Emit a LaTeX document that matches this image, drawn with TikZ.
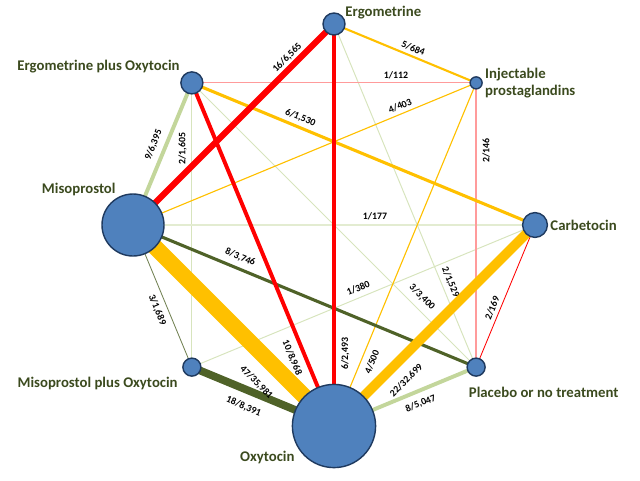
\documentclass[tikz,border=0pt]{standalone}
\usepackage{fontspec}
\setmainfont{Carlito}
\usepackage{xcolor}
\usepackage{tikz}
\usetikzlibrary{positioning,calc,backgrounds}

\definecolor{nodeblue}{HTML}{4F81BD}
\definecolor{nodeline}{HTML}{1F3A5F}
\definecolor{txtgreen}{HTML}{3B4A1E}
\definecolor{amber}{HTML}{FFC000}
\definecolor{darkolive}{HTML}{4F6228}
\definecolor{sage}{HTML}{C3D69B}
\definecolor{paleleaf}{HTML}{D7E4BD}
\definecolor{salmon}{HTML}{FF9B9B}

\begin{document}
\begin{tikzpicture}[
		trt/.style={draw=nodeline, line width=1pt, circle, fill=nodeblue, inner sep=0pt, minimum size=#1},
		tag/.style={font=\fontsize{10.5}{12.5}\selectfont\bfseries, text=txtgreen, inner sep=0pt},
		elab/.style={font=\fontsize{7}{8}\selectfont\bfseries, text=black, inner sep=1pt, sloped}]
		\useasboundingbox (-8.35,-6.375) rectangle (7.65,5.625);

		% treatments on the octagon
		\node[trt=0.55cm] (Erg) at (0,5.025) {};
		\node[trt=0.3cm] (Inj) at (3.553,3.553) {};
		\node[trt=0.62cm] (Carb) at (5.025,0) {};
		\node[trt=0.45cm] (Plac) at (3.553,-3.553) {};
		\node[trt=2.08cm] (Oxy) at (0,-5.025) {};
		\node[trt=0.45cm] (MisoOxy) at (-3.553,-3.553) {};
		\node[trt=1.55cm] (Miso) at (-5.025,0) {};
		\node[trt=0.55cm] (ErgOxy) at (-3.553,3.553) {};

		\node[tag, anchor=west] (ErgT) at ($(Erg)+(0.28,0.28)$) {Ergometrine};
		\node[tag, anchor=east] (ErgOxyT) at ($(ErgOxy)+(-0.3,0.4)$) {Ergometrine plus Oxytocin};
		\node[tag, anchor=west, align=left] (InjT) at ($(Inj)+(0.22,0)$) {Injectable\\prostaglandins};
		\node[tag, anchor=west] (CarbT) at ($(Carb)+(0.38,0)$) {Carbetocin};
		\node[tag] (PlacT) at ($(Plac)+(1.69,-0.62)$) {Placebo or no treatment};
		\node[tag, anchor=east] (OxyT) at ($(Oxy)+(-0.98,-0.78)$) {Oxytocin};
		\node[tag, anchor=east] (MisoOxyT) at ($(MisoOxy)+(-0.35,-0.4)$) {Misoprostol plus Oxytocin};
		\node[tag, anchor=east] (MisoT) at ($(Miso)+(-0.43,0.88)$) {Misoprostol};

		\begin{scope}[on background layer]
			% faint links
			\draw[paleleaf, line width=0.7pt] (MisoOxy.center) -- (ErgOxy.center) node[elab, pos=.768, above=2.3pt] {2/1,605};
			\draw[paleleaf, line width=0.7pt] (ErgOxy.center) -- (Plac.center) node[elab, pos=.782, above=3.7pt] {3/3,400};
			\draw[paleleaf, line width=0.7pt] (Erg.center) -- (Plac.center) node[elab, pos=.762, above=2pt] {2/1,529};
			\draw[paleleaf, line width=0.7pt] (MisoOxy.center) -- (Carb.center) node[elab, pos=.495, above=2.6pt] {1/380};
			\draw[paleleaf!70, line width=1pt] (Miso.center) -- (Carb.center) node[elab, pos=.602, above=2.3pt] {1/177};
			% pink and thin red
			\draw[salmon, line width=0.8pt] (ErgOxy.center) -- (Inj.center) node[elab, pos=.718, above=1.6pt] {1/112};
			\draw[salmon, line width=1pt] (Plac.center) -- (Inj.center) node[elab, pos=.761, below=3pt] {2/146};
			\draw[red, line width=0.6pt] (Plac.center) -- (Carb.center) node[elab, pos=.394, above=1.6pt] {2/169};
			% orange
			\draw[amber, line width=0.8pt] (Miso.center) -- (Inj.center) node[elab, pos=.787, above=1.6pt] {4/403};
			\draw[amber, line width=0.8pt] (Oxy.center) -- (Inj.center) node[elab, pos=.198, below=3.5pt] {4/500};
			\draw[amber, line width=1.5pt] (Erg.center) -- (Inj.center) node[elab, pos=.536, above=1.3pt] {5/684};
			\draw[amber, line width=2.2pt] (ErgOxy.center) -- (Carb.center) node[elab, pos=.306, above=1.5pt] {6/1,530};
			% greens
			\draw[darkolive!80, line width=0.6pt] (Miso.center) -- (MisoOxy.center) node[elab, pos=.57, below=3pt] {3/1,689};
			\draw[sage, line width=2.8pt] (Miso.center) -- (ErgOxy.center) node[elab, pos=.532, above=3pt] {9/6,395};
			\draw[sage, line width=2.8pt] (Oxy.center) -- (Plac.center) node[elab, pos=.576, below=3.6pt] {8/5,047};
			\draw[darkolive, line width=2.2pt] (Miso.center) -- (Plac.center) node[elab, pos=.30, above=3pt] {8/3,746};
			\draw[darkolive, line width=5.5pt] (MisoOxy.center) -- (Oxy.center) node[elab, pos=.408, below=5pt] {18/8,391};
			% red
			\draw[red, line width=2.2pt] (Oxy.center) -- (Erg.center) node[elab, pos=.18, below=3pt] {6/2,493};
			\draw[red, line width=2.8pt] (ErgOxy.center) -- (Oxy.center) node[elab, pos=.787, below=3.7pt] {10/8,968};
			\draw[red, line width=4.3pt] (Miso.center) -- (Erg.center) node[elab, pos=.80, above=0.5pt] {16/6,565};
			% thick orange
			\draw[amber, line width=7pt] (Oxy.center) -- (Carb.center) node[elab, pos=.2935, below=6pt] {22/32,699};
			\draw[amber, line width=11.5pt] (Miso.center) -- (Oxy.center) node[elab, pos=.699, below=7.5pt] {47/35,981};
		\end{scope}
	\end{tikzpicture}
\end{document}
